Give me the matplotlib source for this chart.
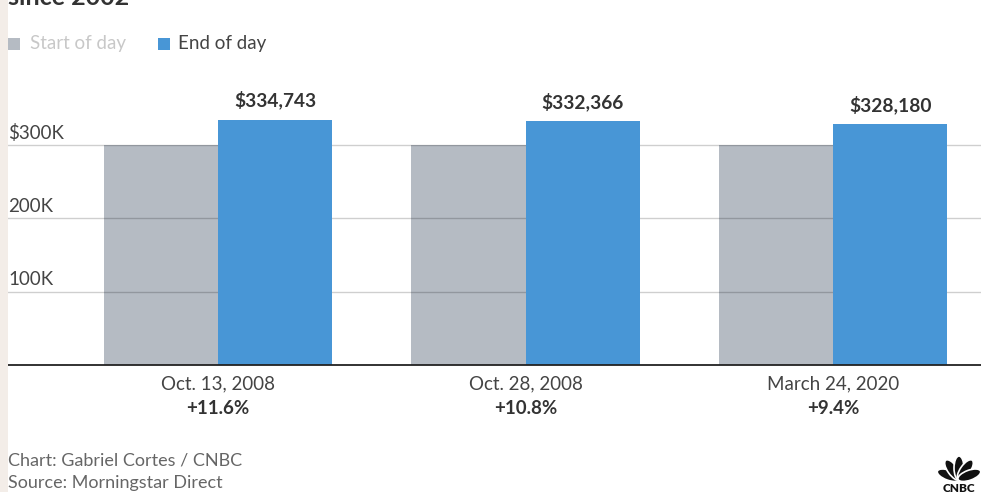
import matplotlib
matplotlib.use("Agg")
import matplotlib.pyplot as plt
import matplotlib.transforms as mtransforms
from matplotlib.patches import Ellipse, Rectangle
import numpy as np

plt.rcParams['font.family'] = ['Lato', 'DejaVu Sans']

dates = ["Oct. 13, 2008", "Oct. 28, 2008", "March 24, 2020"]
pct_changes = ["+11.6%", "+10.8%", "+9.4%"]
start_values = [300000, 300000, 300000]
end_values = [334743, 332366, 328180]
end_labels = ["$334,743", "$332,366", "$328,180"]
ytick_values = [100000, 200000, 300000]
ytick_labels = ["100K", "200K", "$300K"]

W, H = 981, 492
fig = plt.figure(figsize=(W / 100, H / 100), dpi=100)
fig.patch.set_facecolor("white")

# beige strip on the left
fig.patches.append(Rectangle((0, 0), 8 / W, 1, transform=fig.transFigure,
                             facecolor="#f3ede8", edgecolor="none", zorder=0))

ax_left = 8 / W
ax_bottom = 1 - 365 / H
ax_top = 1 - 71.7 / H
ax = fig.add_axes([ax_left, ax_bottom, 1 - ax_left, ax_top - ax_bottom])
ax.set_facecolor("white")

x = np.arange(len(dates))
bw = 0.371
gray = "#b5bbc3"
blue = "#4896d6"

ax.bar(x - bw / 2, start_values, width=bw, color=gray, zorder=1, linewidth=0)
for yv in ytick_values:
    ax.axhline(yv, color="black", alpha=0.19, linewidth=1, zorder=2)
ax.bar(x + bw / 2, end_values, width=bw, color=blue, zorder=3, linewidth=0)

ax.set_xlim(-0.683, 2.481)
ax.set_ylim(0, 400000)

for s in ["top", "right", "left"]:
    ax.spines[s].set_visible(False)
ax.spines["bottom"].set_color("#222222")
ax.spines["bottom"].set_linewidth(1.3)
ax.spines["bottom"].set_zorder(5)
ax.set_yticks([])
ax.set_xticks(x)
ax.set_xticklabels([])
ax.tick_params(axis="x", length=0)

trans = mtransforms.blended_transform_factory(ax.transAxes, ax.transData)
for yv, lab in zip(ytick_values, ytick_labels):
    ax.text(0.0, yv + 4500, lab, transform=trans, ha="left", va="bottom",
            fontsize=13.5, color="#444444")

for xi, v, lab in zip(x, end_values, end_labels):
    ax.text(xi + bw / 2, v + 13500, lab, ha="center", va="bottom",
            fontsize=13.8, fontweight="bold", color="#333333")

for xi, d, p in zip(x, dates, pct_changes):
    ax.annotate(d, xy=(xi, 0), xytext=(0, -19), textcoords="offset pixels",
                ha="center", va="center", fontsize=13.5, color="#444444",
                annotation_clip=False)
    ax.annotate(p, xy=(xi, 0), xytext=(0, -43), textcoords="offset pixels",
                ha="center", va="center", fontsize=13.5, fontweight="bold",
                color="#333333", annotation_clip=False)

# partially cut-off title (as in the reference)
fig.text(8 / W, 1 + 14 / H, "since 2002", ha="left", va="top",
         fontsize=18, fontweight="bold", color="#333333")

# legend
fig.patches.append(Rectangle((8 / W, 1 - 50 / H), 12 / W, 12 / H,
                             transform=fig.transFigure, facecolor=gray,
                             edgecolor="none"))
fig.text(30 / W, 1 - 44 / H, "Start of day", ha="left", va="center",
         fontsize=13.5, color="#c8c8c8")
fig.patches.append(Rectangle((158 / W, 1 - 50 / H), 12 / W, 12 / H,
                             transform=fig.transFigure, facecolor=blue,
                             edgecolor="none"))
fig.text(178 / W, 1 - 44 / H, "End of day", ha="left", va="center",
         fontsize=13.5, color="#444444")

# footer
fig.text(8 / W, 1 - 461 / H, "Chart: Gabriel Cortes / CNBC", ha="left",
         va="center", fontsize=13, color="#666666")
fig.text(8 / W, 1 - 483 / H, "Source: Morningstar Direct", ha="left",
         va="center", fontsize=13, color="#666666")

# simple CNBC peacock logo
lax = fig.add_axes([936 / W, 0, 45 / W, 42 / H])
lax.set_xlim(0, 45)
lax.set_ylim(0, 42)
lax.axis("off")
for ang in [-70, -35, 0, 35, 70]:
    r = np.deg2rad(ang)
    cx = 23 + 11 * np.sin(r)
    cy = 13 + 11 * np.cos(r)
    lax.add_patch(Ellipse((cx, cy), 10, 24, angle=-ang, facecolor="#111111",
                          edgecolor="white", linewidth=1.2))
lax.add_patch(Rectangle((0, 0), 45, 9, facecolor="white", edgecolor="none"))
lax.text(23, 4, "CNBC", ha="center", va="center", fontsize=8.5,
         fontweight="heavy", color="#111111")

fig.savefig("out.png", dpi=100, facecolor="white")
